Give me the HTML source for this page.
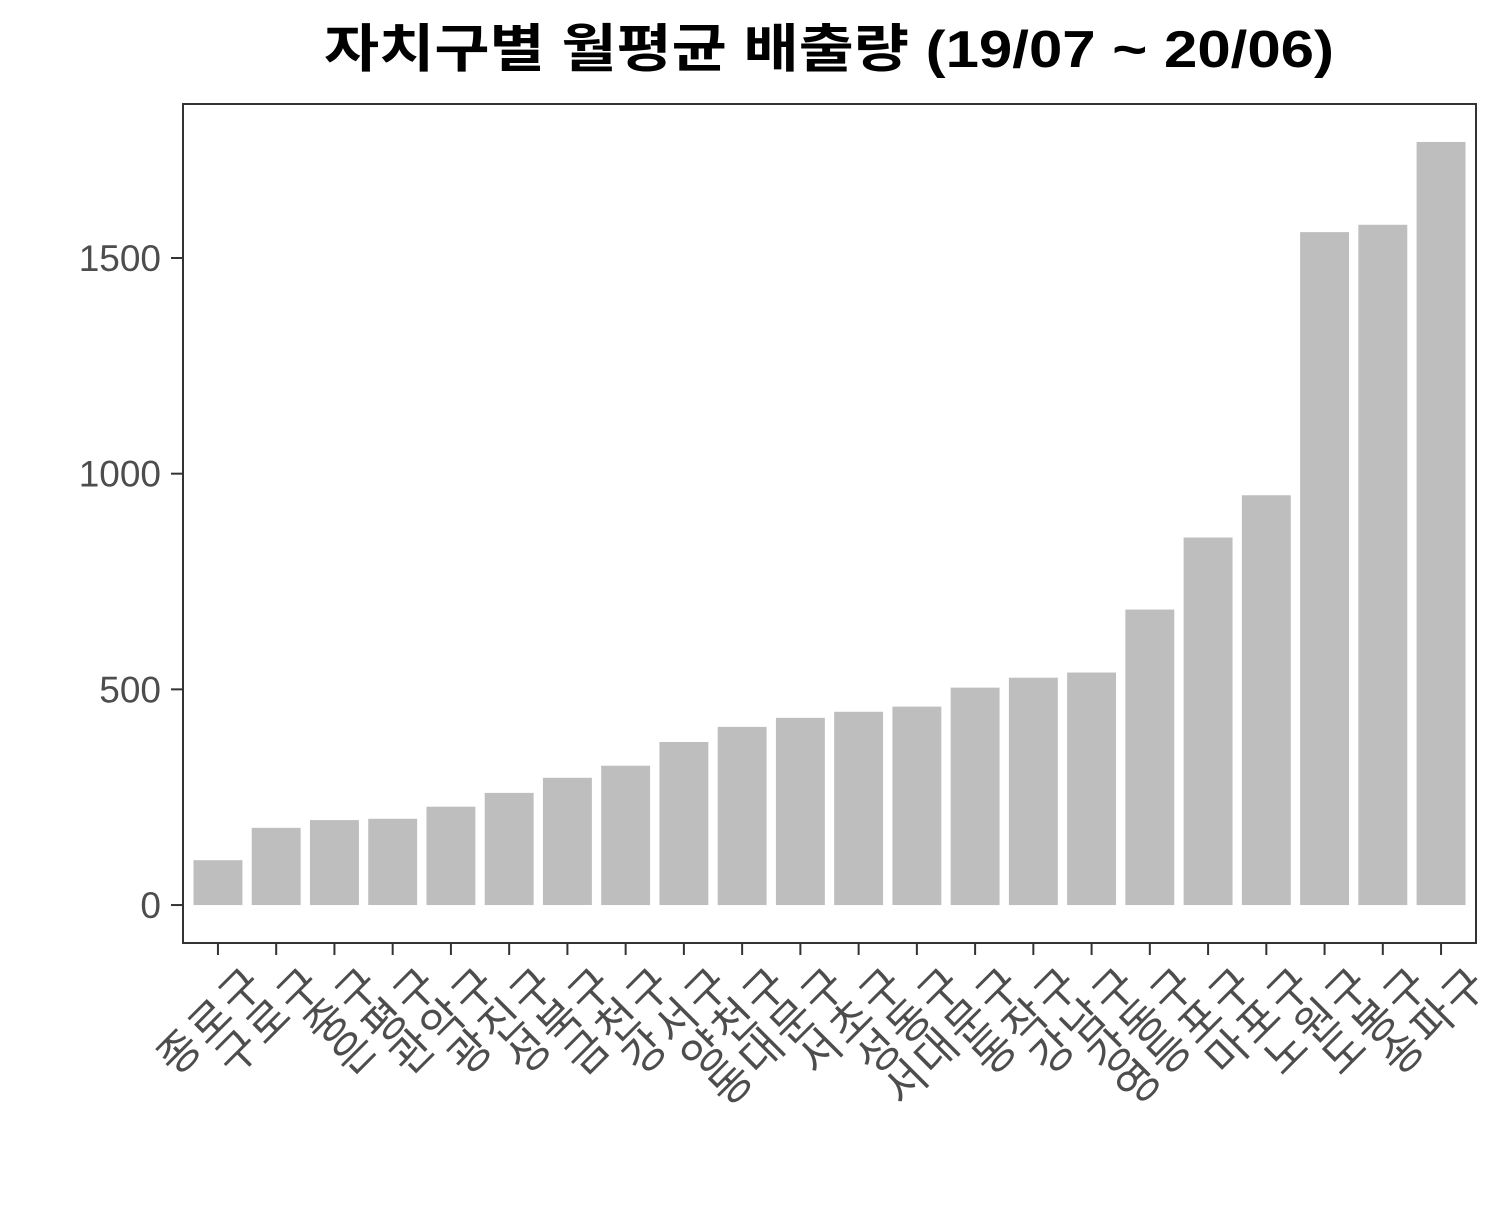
<!DOCTYPE html>
<html><head><meta charset="utf-8"><style>
body{margin:0;background:#fff;}
svg text{font-family:"Liberation Sans","Noto Sans CJK KR",sans-serif;}
</style></head><body>
<svg width="1500" height="1200" xmlns="http://www.w3.org/2000/svg">
<text x="829" y="67" text-anchor="middle" font-size="52" font-weight="bold" fill="#000" textLength="1010" lengthAdjust="spacingAndGlyphs">자치구별 월평균 배출량 (19/07 ~ 20/06)</text>
<rect x="183" y="104" width="1293" height="839" fill="#fff" stroke="#333" stroke-width="2"/>
<g id="bars"></g><g id="yaxis"></g><g id="xaxis"></g>
</svg>
<script>
const categories=["종로구","구로구","중구","은평구","관악구","광진구","성북구","금천구","강서구","양천구","동대문구","서초구","성동구","서대문구","동작구","강남구","강동구","영등포구","마포구","노원구","도봉구","송파구"];
const values=[104,179,197,200,228,260,295,323,378,413,434,448,460,504,527,539,685,852,950,1560,1577,1769];
const yTicks=[0,500,1000,1500];
const NS="http://www.w3.org/2000/svg";
const px0=183,pw=1293,py0=104,ph=839,ymin=-88,ymax=1857;
const step=pw/(categories.length-1+1.2);
function xs(i){return px0+step*(0.6+i);}
function ys(v){return py0+ph*(ymax-v)/(ymax-ymin);}
function mk(t,a,p){const e=document.createElementNS(NS,t);for(const k in a)e.setAttribute(k,a[k]);p.appendChild(e);return e;}
const bw=step*0.84;
const bg=document.getElementById('bars');
values.forEach((v,i)=>{
 const r=mk('rect',{x:xs(i)-bw/2,y:ys(v),width:bw,height:ys(0)-ys(v),fill:'#bebebe'},bg);
 
 
});
const ya=document.getElementById('yaxis');
yTicks.forEach(t=>{
 const y=ys(t);
 const l=mk('line',{x1:171,x2:183,y1:y,y2:y,stroke:'#333','stroke-width':2},ya);
 
 
 const tx=mk('text',{x:161,y:y+13,'text-anchor':'end','font-size':37,fill:'#4d4d4d'},ya);
 tx.textContent=t;
 
 
});
const xa=document.getElementById('xaxis');
categories.forEach((c,i)=>{
 const x=xs(i);
 const l=mk('line',{x1:x,x2:x,y1:943,y2:955,stroke:'#333','stroke-width':2},xa);
 
 
 const ax=x+50,ay=985;
 const tx=mk('text',{x:ax,y:ay,'text-anchor':'end','font-size':44,'letter-spacing':3,fill:'#4d4d4d',transform:`rotate(-45 ${ax} ${ay})`},xa);
 tx.textContent=c;
 
 
});
</script>
</body></html>
